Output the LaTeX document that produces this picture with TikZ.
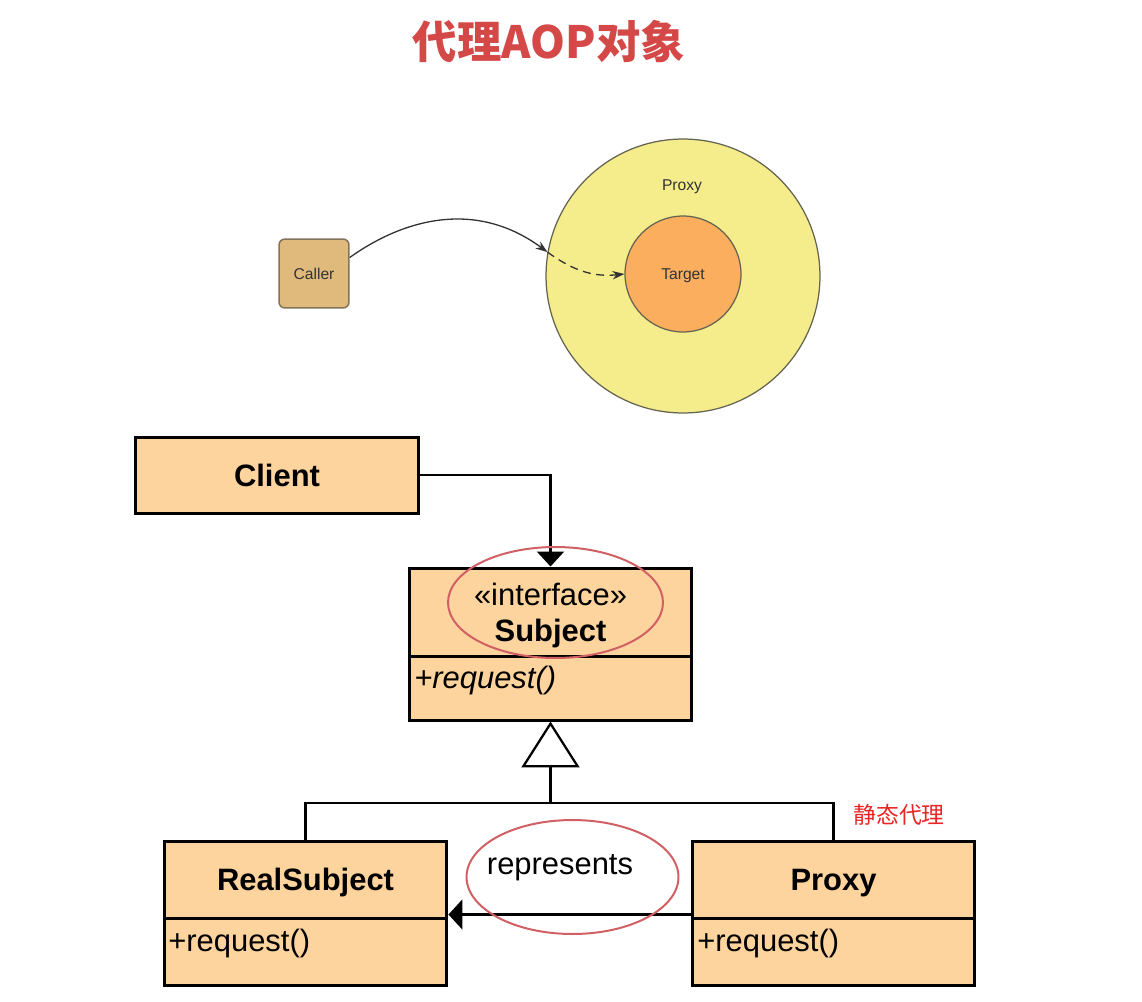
\documentclass[tikz,border=0pt]{standalone}
\usepackage{fontspec}
\setmainfont{Liberation Sans}
\newfontfamily\cjk{Noto Sans CJK SC}
\usetikzlibrary{arrows.meta,shapes.geometric,calc}
\definecolor{titlered}{RGB}{212,72,72}
\definecolor{notered}{RGB}{232,36,36}
\definecolor{boxfill}{RGB}{253,211,158}
\definecolor{callerfill}{RGB}{224,186,124}
\definecolor{callerdraw}{RGB}{130,115,90}
\definecolor{proxyfill}{RGB}{245,236,140}
\definecolor{targetfill}{RGB}{250,174,94}
\definecolor{circdraw}{RGB}{100,100,80}
\definecolor{ellred}{RGB}{208,96,100}
\newcommand\umlfont{\fontsize{17.6}{20}\selectfont}
\newcommand\smallfont{\fontsize{8.9}{10}\selectfont}
\tikzset{
  umlbox/.style={draw=black, line width=0.06cm, fill=boxfill, rectangle, inner sep=0pt, minimum width=5.66cm},
  conn/.style={draw=black, line width=0.045cm},
  flow/.style={draw=black!80, line width=0.026cm},
  redell/.style={draw=ellred, line width=0.04cm, ellipse, inner sep=0pt},
  lbl/.style={inner sep=0pt, anchor=base, font=\umlfont},
}
\begin{document}
\begin{tikzpicture}[x=0.02cm, y=-0.02cm]
\useasboundingbox (0,0) rectangle (1142,1001);

% title
\node[inner sep=0pt, text=titlered, font=\cjk\bfseries\fontsize{25.3}{28}\selectfont] (title) at (549,42) {代理AOP对象};

% upper picture
\node[draw=callerdraw, fill=callerfill, line width=0.03cm, rounded corners=0.12cm,
      minimum width=1.4cm, minimum height=1.38cm, inner sep=0pt] (caller) at (314,273.5) {};
\node[inner sep=0pt, anchor=base, font=\smallfont, text=black!80] (callertxt) at (314,279) {Caller};
\node[draw=circdraw, fill=proxyfill, circle, line width=0.025cm, minimum size=5.48cm, inner sep=0pt] (proxyc) at (683,276) {};
\node[draw=circdraw, fill=targetfill, circle, line width=0.025cm, minimum size=2.32cm, inner sep=0pt] (target) at (683,274) {};
\node[inner sep=0pt, anchor=base, font=\smallfont, text=black!80] (proxytxt) at (682,190) {Proxy};
\node[inner sep=0pt, anchor=base, font=\smallfont, text=black!80] (targettxt) at (683,279) {Target};
\draw[flow, -{Stealth[length=0.24cm,width=0.17cm]}] ($(caller.east)+(0,-16)$) .. controls (395,225) and (470,195) .. (proxyc.170);
\draw[flow, dash pattern=on 0.16cm off 0.11cm, -{Stealth[length=0.24cm,width=0.17cm]}] (proxyc.170) .. controls (575,272) and (595,277) .. (target.west);

% UML
\node[umlbox, minimum width=5.68cm, minimum height=1.52cm] (client) at (277,475) {};
\node[lbl, font=\umlfont\bfseries] (clienttxt) at (277,486) {Client};

\node[umlbox, minimum height=1.76cm] (subjtop) at (550.5,612) {};
\node[umlbox, minimum height=1.28cm] (subjbot) at (550.5,688) {};
\node[lbl] (iface) at (550.5,605) {«interface»};
\node[lbl, font=\umlfont\bfseries] (subjtxt) at (550.5,641) {Subject};
\node[lbl, anchor=base west, font=\umlfont\itshape] (subjop) at (414,688) {+request()};

\node[umlbox, minimum height=1.54cm] (rstop) at (305.5,879.5) {};
\node[umlbox, minimum height=1.34cm] (rsbot) at (305.5,951.5) {};
\node[lbl, font=\umlfont\bfseries] (rstxt) at (305.5,890) {RealSubject};
\node[lbl, anchor=base west] (rsop) at (168,951) {+request()};

\node[umlbox, minimum height=1.54cm] (pxtop) at (833.5,879.5) {};
\node[umlbox, minimum height=1.34cm] (pxbot) at (833.5,951.5) {};
\node[lbl, font=\umlfont\bfseries] (pxtxt) at (833.5,890) {Proxy};
\node[lbl, anchor=base west] (pxop) at (697,951) {+request()};

% client -> subject
\draw[conn, -{Triangle[length=0.3cm,width=0.54cm]}] (client.east) -| (subjtop.north);

% generalization
\coordinate (junc) at (550.5,803);
\draw[conn] (rstop.north) -- (rstop.north |- junc) -- (pxtop.north |- junc) -- (pxtop.north);
\draw[conn, -{Triangle[open,length=0.92cm,width=1.16cm]}] (junc) -- (subjbot.south);

% represents
\draw[conn, -{Triangle[length=0.28cm,width=0.6cm]}] ($(pxtop.south west)+(0,-5)$) -- ($(rstop.south east)+(0,-5)$);
\node[lbl] (reptxt) at (560,874) {represents};

% red highlight ellipses
\node[redell, minimum width=4.3cm, minimum height=2.22cm] (ell1) at (555.5,602.5) {};
\node[redell, minimum width=4.24cm, minimum height=2.28cm] (ell2) at (572.5,877) {};

% note
\node[inner sep=0pt, text=notered, font=\cjk\fontsize{13}{15}\selectfont] (note) at (899,815) {静态代理};
\end{tikzpicture}
\end{document}
